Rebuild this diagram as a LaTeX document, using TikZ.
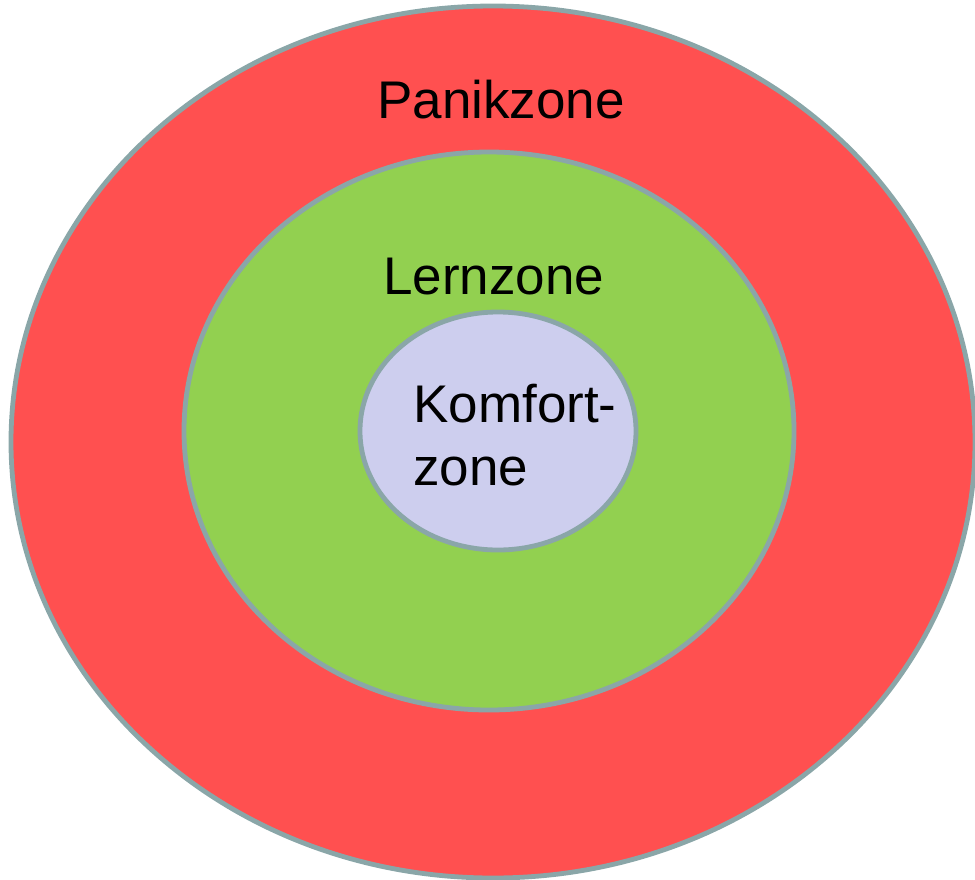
\documentclass[tikz,border=0pt]{standalone}
\usepackage{fontspec}
\setmainfont{Liberation Sans}
\definecolor{panicRed}{HTML}{FF5050}
\definecolor{learnGreen}{HTML}{92D050}
\definecolor{comfortBlue}{HTML}{CDCEEE}
\definecolor{rimGrey}{HTML}{8AA6A8}
\begin{document}
\begin{tikzpicture}[%%
  x=0.5pt,y=-0.5pt,%%
  zoneStyle/.style={draw=rimGrey,line width=2.4pt},%%
  labelStyle/.style={inner sep=0pt,anchor=base west,font=\fontsize{26.5}{31}\selectfont}%%
]
%%
%% The frame of the picture.
\useasboundingbox (0,0) rectangle (975,879);
%%
%% Centres of the zones.
\coordinate (panicCentre) at (493,442);
\coordinate (learnCentre) at (489,431);
\coordinate (comfortCentre) at (498,431);
%%
%% The three zones, from outside to inside.
\draw[zoneStyle,fill=panicRed] (panicCentre) ellipse [x radius=482,y radius=436];
\draw[zoneStyle,fill=learnGreen] (learnCentre) ellipse [x radius=305,y radius=279];
\draw[zoneStyle,fill=comfortBlue] (comfortCentre) ellipse [x radius=138,y radius=119];
%%
%% The names of the zones.
\node[labelStyle] (panicLabel) at (377,118) {Panikzone};
\node[labelStyle] (learnLabel) at (383,294) {Lernzone};
\node[labelStyle] (comfortLabelA) at (413,422) {Komfort-};
\node[labelStyle] (comfortLabelB) at (413,485) {zone};
\end{tikzpicture}
\end{document}
